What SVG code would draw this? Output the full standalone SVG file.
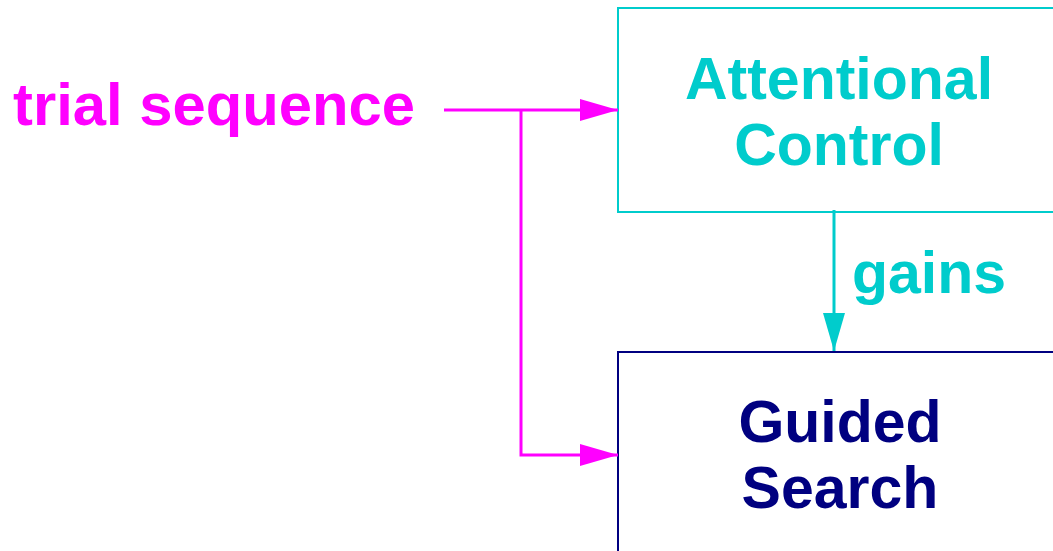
<svg xmlns="http://www.w3.org/2000/svg" width="1053" height="551" viewBox="0 0 1053 551">
<style>
text{font-family:"Liberation Sans",Arial,sans-serif;font-weight:bold;font-size:59px}
.cy{fill:#00CCCC}.nv{fill:#000080}.mg{fill:#FF00FF}
.mline{stroke:#FF00FF;stroke-width:3;fill:none}
.cline{stroke:#00CCCC;stroke-width:3;fill:none}
</style>
<defs>
<marker id="am" markerUnits="userSpaceOnUse" markerWidth="40" markerHeight="24" refX="38" refY="11" orient="auto"><path d="M0,0 L38,11 L0,22 Z" fill="#FF00FF"/></marker>
<marker id="ac" markerUnits="userSpaceOnUse" markerWidth="40" markerHeight="24" refX="38" refY="11" orient="auto"><path d="M0,0 L38,11 L0,22 Z" fill="#00CCCC"/></marker>
</defs>
<rect width="1053" height="551" fill="#fff"/>
<g id="trial-sequence"><text class="mg" x="13" y="125" style="font-size:60px" textLength="402" lengthAdjust="spacingAndGlyphs">trial sequence</text></g>
<g id="attentional-control">
<rect x="618" y="8" width="440" height="204" fill="none" stroke="#00CCCC" stroke-width="2"/>
<text class="cy" x="839" y="99" text-anchor="middle">Attentional</text>
<text class="cy" x="839" y="165" text-anchor="middle">Control</text>
</g>
<g id="guided-search">
<rect x="618" y="352" width="440" height="210" fill="none" stroke="#000080" stroke-width="2"/>
<text class="nv" x="840" y="442" text-anchor="middle">Guided</text>
<text class="nv" x="840" y="508" text-anchor="middle">Search</text>
</g>
<g id="connectors">
<path class="mline" d="M444,110 L618,110" marker-end="url(#am)"/>
<path class="mline" d="M521,110 L521,455 L618,455" marker-end="url(#am)"/>
<path class="cline" d="M834,210 L834,351" marker-end="url(#ac)"/>
<text class="cy" x="852" y="293">gains</text>
</g>
</svg>
